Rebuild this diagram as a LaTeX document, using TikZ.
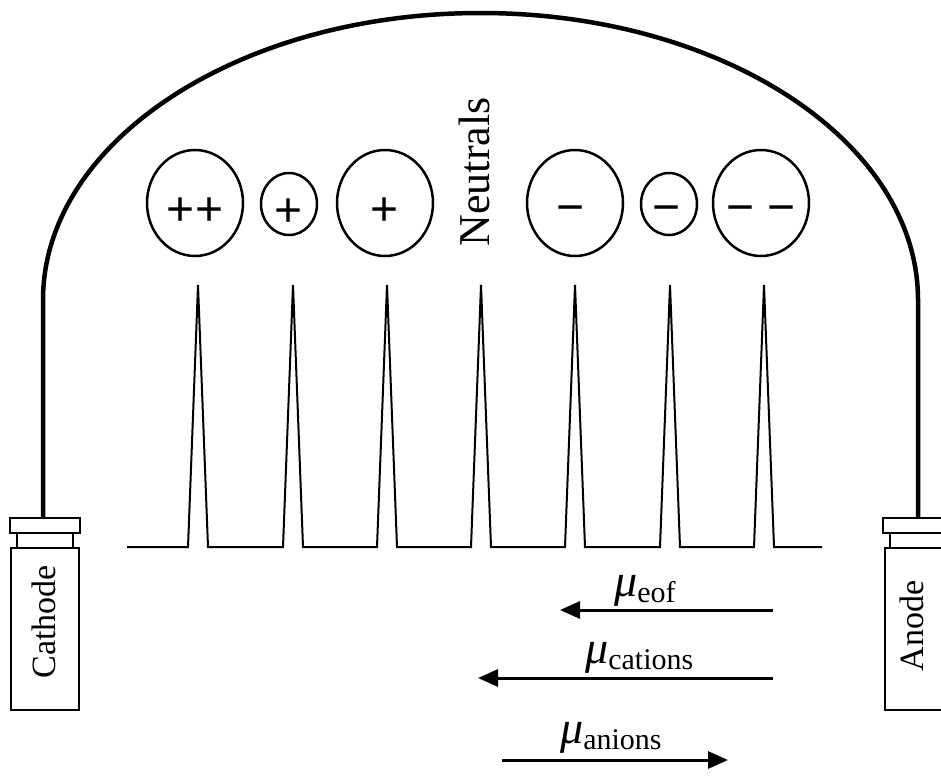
\documentclass[tikz,border=0pt]{standalone}
\usepackage{fontspec}
\setmainfont{Liberation Serif}
\newfontfamily\signfont{Liberation Sans}
\usetikzlibrary{shapes.geometric,arrows.meta}

\tikzset{
  wire/.style={line width=4.5pt, line cap=round},
  electrode/.style={draw, line width=2.5pt, rectangle, inner sep=0pt},
  ion/.style={draw, line width=2.5pt, ellipse, inner sep=0pt},
  bigion/.style={ion, minimum width=96pt, minimum height=106pt},
  smallion/.style={ion, minimum width=56pt, minimum height=62pt},
  charge/.style={font=\signfont\fontsize{48}{48}\selectfont, inner sep=0pt},
  trace/.style={line width=2pt, line join=miter},
  flow/.style={line width=3pt, -{Triangle[length=20pt,width=17pt]}},
  mobility/.style={anchor=base west, inner sep=0pt},
  elabel/.style={font=\fontsize{34}{34}\selectfont, rotate=90, inner sep=0pt}
}
\newcommand{\mob}[1]{{\fontsize{46}{46}\selectfont\itshape μ}\raisebox{-6pt}{\fontsize{30}{30}\selectfont #1}}

\begin{document}
\begin{tikzpicture}[x=1pt, y=-1pt]
  \useasboundingbox (0,0) rectangle (941,776);

  % Cathode: cap, collar and body
  \node[electrode, minimum width=70pt, minimum height=15pt] (ccap) at (45,525.5) {};
  \node[electrode, minimum width=56pt, minimum height=15pt] (ccol) at (45,540.5) {};
  \node[electrode, minimum width=68pt, minimum height=162pt] (cbody) at (45,629) {};
  \node[elabel] (ctext) at (44,622) {Cathode};

  % Anode: cap, collar and body (running off the right edge)
  \node[electrode, minimum width=70pt, minimum height=15pt] (acap) at (918,525.5) {};
  \node[electrode, minimum width=56pt, minimum height=15pt] (acol) at (918,540.5) {};
  \node[electrode, minimum width=68pt, minimum height=162pt] (abody) at (919,629) {};
  \node[elabel] (atext) at (912,626) {Anode};

  % Capillary joining the two electrodes
  \coordinate (cw) at (43,300);
  \coordinate (aw) at (918,300);
  \draw[wire] (ccap.north -| cw) -- (cw)
    arc[start angle=180, end angle=360, x radius=437.5, y radius=287]
    -- (acap.north -| aw);

  % Separated species
  \node[bigion]   (pp)  at (195,203) {};
  \node[smallion] (ps)  at (289,204) {};
  \node[bigion]   (pb)  at (385,203) {};
  \node[bigion]   (mb)  at (575,203) {};
  \node[smallion] (ms)  at (669,204) {};
  \node[bigion]   (mm)  at (761,203) {};
  \node[charge] at ([yshift=-9pt]pp.center) {++};
  \node[charge] at ([yshift=-9pt]ps.center) {+};
  \node[charge] at ([yshift=-9pt]pb.center) {+};
  \node[charge] at ([xshift=-4pt,yshift=-12pt]mb.center) {−};
  \node[charge] at ([xshift=-2pt,yshift=-11pt]ms.center) {−};
  \node[charge] at ([yshift=-12pt]mm.center) {− −};
  \node[rotate=90, font=\fontsize{44}{44}\selectfont, inner sep=0pt] (neu) at (474,172) {Neutrals};

  % Electropherogram
  \draw[trace] (127,547)
    \foreach \c in {198,293,387,481,575,670,764} { -- (\c-10,547) -- (\c,285) -- (\c+10,547) }
    -- (822,547);

  % Mobility vectors
  \coordinate (eofA) at (773,610);  \coordinate (eofB) at (560,610);
  \coordinate (catA) at (773,678);  \coordinate (catB) at (478,678);
  \coordinate (aniA) at (502,760);  \coordinate (aniB) at (728,760);
  \draw[flow] (eofA) -- (eofB);
  \draw[flow] (catA) -- (catB);
  \draw[flow] (aniA) -- (aniB);
  \node[mobility] (leof) at (614,596) {\mob{eof}};
  \node[mobility] (lcat) at (585,663) {\mob{cations}};
  \node[mobility] (lani) at (560,743) {\mob{anions}};
\end{tikzpicture}
\end{document}
